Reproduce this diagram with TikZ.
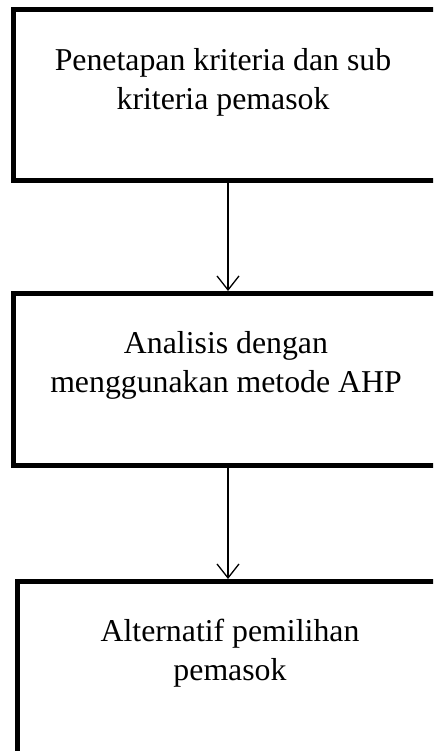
\documentclass[tikz,border=0pt]{standalone}
\usepackage{fontspec}
\setmainfont{Liberation Serif}
\usepackage{tikz}
\usetikzlibrary{arrows.meta}
\usetikzlibrary{positioning}

\begin{document}
\begin{tikzpicture}
		[x=1pt,y=-1pt,
		box/.style={rectangle,draw,line width=5pt,minimum height=171.5pt,inner sep=0pt},
		lbl/.style={align=center,anchor=base,inner sep=0pt,font=\fontsize{31.8}{39}\selectfont},
		arr/.style={line width=1.3pt,-{Straight Barb[length=14pt,width=22pt,line width=1.3pt]}}]
		\useasboundingbox (0,0) rectangle (433,751);
		\clip (0,0) rectangle (433,751);
		\node[box,minimum width=428.4pt] (b1) at (228,95.25) {};
		\node[box,minimum width=429.2pt] (b2) at (228,379.25) {};
		\node[box,minimum width=421pt] (b3) at (228,667.25) {};
		
		\node[lbl] (t1) at (223,110) {Penetapan kriteria dan sub\\kriteria pemasok};
		\node[lbl] (t2) at (226,392) {Analisis dengan\\menggunakan metode AHP};
		\node[lbl] (t3) at (230,680) {Alternatif pemilihan\\pemasok};
		
		\foreach \from/\to in 
		{b1/b2, b2/b3}
		\draw[arr] (\from.south) -- (\to.north);
		\end{tikzpicture}
\end{document}
